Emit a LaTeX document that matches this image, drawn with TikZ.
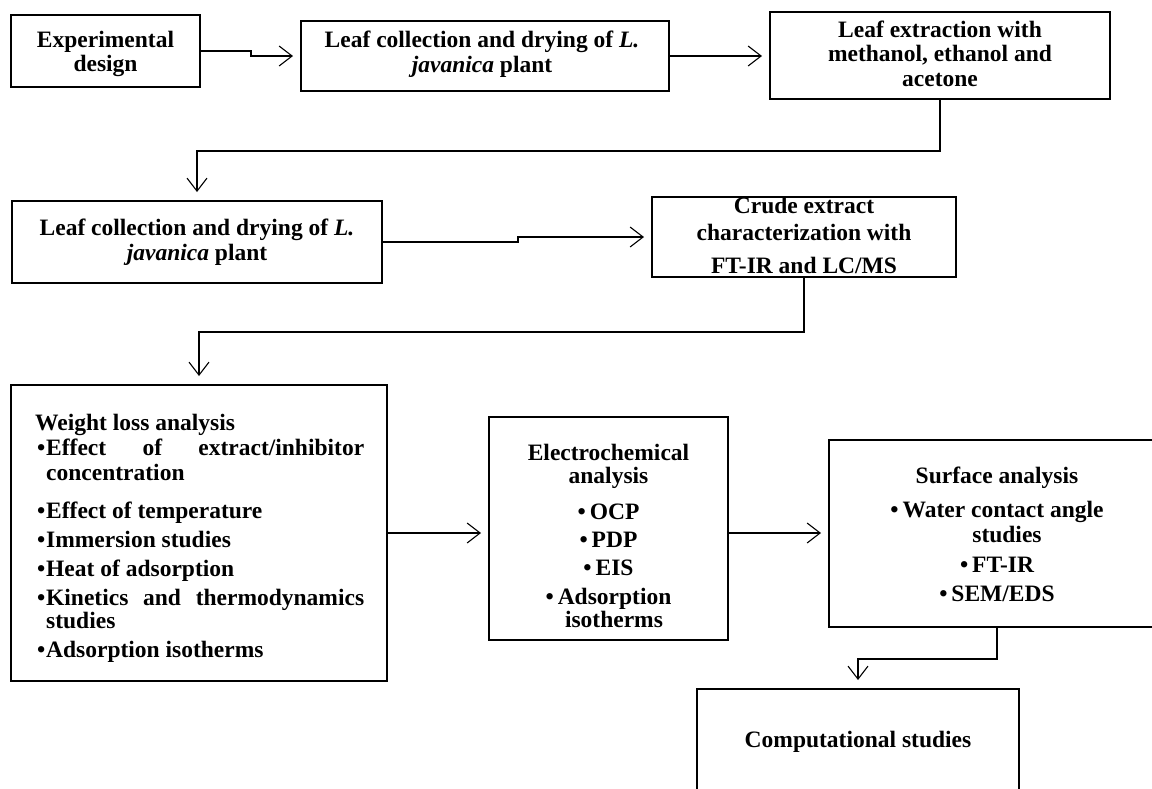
\documentclass[tikz,border=0pt]{standalone}
\usepackage{fontspec}
\setmainfont{Liberation Serif}
\usetikzlibrary{arrows.meta}
\newcommand{\fs}{\fontsize{23.5pt}{25pt}\selectfont\bfseries}
\newcommand{\bul}{\makebox[11pt][l]{\hspace{2pt}•}}
\begin{document}
\begin{tikzpicture}[x=1pt,y=-1pt,
  box/.style={draw, line width=2pt, inner sep=0pt},
  conn/.style={line width=1.1pt, -{Straight Barb[length=13pt,width=20pt,line width=1.1pt]}, shorten >=7pt},
  txt/.style={inner sep=0pt, anchor=base, font=\fs},
]
\useasboundingbox (0,0) rectangle (1152,788);
\clip (0,0) rectangle (1152,788);
\fill[white] (0,0) rectangle (1152,788);

% boxes
\node[box, minimum width=189pt, minimum height=72pt] (b1) at (105.5,51) {};
\node[box, minimum width=368pt, minimum height=70pt] (b2) at (485,56) {};
\node[box, minimum width=340pt, minimum height=87pt] (b3) at (940,55.5) {};
\node[box, minimum width=370pt, minimum height=82pt] (b4) at (197,242) {};
\node[box, minimum width=304pt, minimum height=80pt] (c) at (804,237) {};
\node[box, minimum width=376pt, minimum height=296pt] (b5) at (199,533) {};
\node[box, minimum width=239pt, minimum height=223pt] (e) at (608.5,528.5) {};
\node[box, minimum width=336pt, minimum height=187pt] (s) at (997,533.5) {};
\node[box, minimum width=322pt, minimum height=121pt] (comp) at (858,749.5) {};

% texts
\node[txt] (t1) at (105.5,47) {\parbox[t]{185pt}{\centering\baselineskip=24pt Experimental\\design}};
\node[txt] (t2) at (482,47) {\parbox[t]{360pt}{\centering Leaf collection and drying of \textit{L.}\\\textit{javanica} plant}};
\node[txt] (t3) at (940,37) {\parbox[t]{330pt}{\centering\baselineskip=24.5pt Leaf extraction with\\methanol, ethanol and\\acetone}};
\node[txt] (t4) at (197,235) {\parbox[t]{360pt}{\centering Leaf collection and drying of \textit{L.}\\\textit{javanica} plant}};
\node[txt] (tc) at (804,213) {\parbox[t]{300pt}{\centering Crude extract\\[2pt]characterization with\\[8pt]FT-IR and LC/MS}};
\node[txt, anchor=base west] (t5) at (35,430) {\parbox[t]{340pt}{\raggedright
Weight loss analysis\\
\bul\makebox[318pt][s]{Effect of extract/inhibitor}\\
\hspace*{11pt}concentration\\[13pt]
\bul Effect of temperature\\[4pt]
\bul Immersion studies\\[4pt]
\bul Heat of adsorption\\[4pt]
\bul\makebox[318pt][s]{Kinetics and thermodynamics}\\[-2pt]
\hspace*{11pt}studies\\[4pt]
\bul Adsorption isotherms}};
\node[txt] (te) at (608.5,460) {\parbox[t]{235pt}{\centering
Electrochemical\\[-2pt]
analysis\\[11pt]
•\,OCP\\[3pt]
•\,PDP\\[3pt]
•\,EIS\\[4pt]
•\,Adsorption\\[-2pt]
\hspace*{11pt}isotherms}};
\node[txt] (ts) at (997,483) {\parbox[t]{330pt}{\centering
Surface analysis\\[9pt]
•\,Water contact angle\\
\hspace*{20pt}studies\\[5pt]
•\,FT-IR\\[4pt]
•\,SEM/EDS}};
\node[txt] (tcomp) at (858,747) {Computational studies};

% connectors
\draw[conn] (b1.east) -- ++(50,0) |- (b2.west);
\draw[conn] (b2.east) -- (b2.east -| b3.west);
\draw[conn, shorten >=8pt] (b3.south) -- ++(0,51) -| (b4.north);
\draw[conn] (b4.east) -- ++(135,0) |- (c.west);
\draw[conn, shorten >=8pt] (c.south) -- ++(0,54) -| (b5.north);
\draw[conn] (b5.east) -- (b5.east -| e.west);
\draw[conn] (e.east |- b5.east) -- (s.west |- b5.east);
\draw[conn, shorten >=8pt] (s.south) -- ++(0,31) -| (comp.north);
\end{tikzpicture}
\end{document}
